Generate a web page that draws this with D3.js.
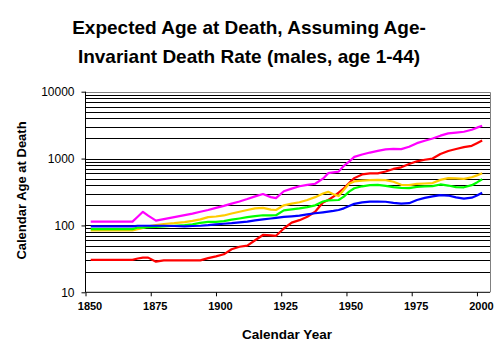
<!DOCTYPE html>
<html><head><meta charset="utf-8">
<script src="https://cdn.jsdelivr.net/npm/d3@7"></script>
<style>
body{margin:0;background:#fff;}
svg{display:block;font-family:"Liberation Sans",Arial,sans-serif;}
</style></head>
<body><svg id="chart" width="498" height="355"></svg>
<script>
const years = [1852,1856,1860,1864,1868,1870,1872,1874,1877,1880,1884,1888,1891,1894,1897,1900,1903,1906,1909,1912,1915,1918,1921,1923,1926,1929,1932,1935,1938,1941,1943,1945,1947,1949,1951,1953,1956,1959,1962,1965,1968,1971,1974,1977,1980,1983,1986,1989,1992,1995,1998,2000,2002];
const magenta = [114,114,114,114,114,135,160,140,118,124,133,143,150,160,170,183,196,212,228,248,272,295,265,256,325,355,385,405,420,500,604,620,638,780,900,1060,1150,1230,1300,1370,1400,1385,1500,1700,1850,2000,2200,2380,2450,2520,2700,2900,3100];
const red = [30.5,30.5,30.5,30.5,30.5,32,33,33,28.7,30,30,30,30,30,32.5,34.5,37,44,48,50,60,72,71,70,90,110,120,135,160,220,240,270,310,360,430,510,580,600,600,640,700,740,830,910,960,1000,1170,1300,1390,1480,1550,1700,1860];
const orange = [84,84,84,84,84,88,92,97,101,105,108,112,117,123,133,136,141,151,160,170,180,183,172,170,200,212,222,240,265,300,318,293,275,340,420,455,468,475,480,475,450,405,400,418,424,430,480,510,505,497,525,560,604];
const green = [88,88,88,88,88,93,93,94,95,97,99,101,104,109,113,113,116,122,127,133,138,142,141,142,168,174,180,188,200,228,237,238,240,270,320,360,385,400,404,390,373,365,362,377,383,388,410,395,375,372,400,440,491];
const blue = [97,97,97,97,97,99,99,99,99,99,98,97,98,99,101,104,106,108,111,114,119,123,127,130,134,137,140,146,152,157,161,165,170,180,195,210,221,227,227,226,218,212,215,240,258,272,284,280,263,252,260,280,309];
const xTicks = [1850,1875,1900,1925,1950,1975,2000];
const yTicks = [10,100,1000,10000];
const titleLines = ["Expected Age at Death, Assuming Age-","Invariant Death Rate (males, age 1-44)"];

const series = [
  {name:"red", values:red, color:"#FF0000"},
  {name:"magenta", values:magenta, color:"#FF00FF"},
  {name:"orange", values:orange, color:"#FFCC00"},
  {name:"green", values:green, color:"#00FF00"},
  {name:"blue", values:blue, color:"#0000FF"}
];

const svg = d3.select("#chart");
const L=85.5, R=490, T=91.7, B=292.3;
const x = d3.scaleLinear().domain([1850,2005]).range([L,R]);
const y = d3.scaleLog().domain([10,10000]).range([B,T]);

// gridlines
const grid=[];
for(let d=10; d<10000; d*=10){ for(let k=1;k<10;k++){ const v=d*k; if(v>10) grid.push(v);} }
svg.append("g").selectAll("line").data(grid).join("line")
  .attr("x1",L).attr("x2",R).attr("y1",d=>Math.round(y(d))+0.5).attr("y2",d=>Math.round(y(d))+0.5)
  .attr("stroke","#000").attr("stroke-width",1);
// plot border top/right (gray)
svg.append("path").attr("d",`M${L},${Math.round(T)+0.5}H${R+0.5}V${B}`).attr("fill","none").attr("stroke","#808080").attr("stroke-width",1);

// lines
const line = d3.line().x((d,i)=>x(years[i])).y(d=>y(d));
svg.append("g").selectAll("path").data(series).join("path")
  .attr("d",s=>line(s.values)).attr("fill","none").attr("stroke",s=>s.color).attr("stroke-width",2.2).attr("stroke-linejoin","round");

// axes
const yAxis = d3.axisLeft(y).tickValues(yTicks).tickFormat(d3.format("d")).tickSize(4).tickPadding(7);
const gy = svg.append("g").attr("transform",`translate(${L},0)`).call(yAxis);
gy.select(".domain").attr("d",`M0,${T}V${B}`).attr("stroke","#000");
gy.selectAll("text").attr("font-size","12px").attr("font-family","'Liberation Sans',Arial,sans-serif").attr("fill","#000");
const xAxis = d3.axisBottom(x).tickValues(xTicks).tickFormat(d3.format("d")).tickSize(4).tickPadding(6);
const gx = svg.append("g").attr("transform",`translate(0,${B})`).call(xAxis);
gx.select(".domain").attr("d",`M${L},0H${R}`).attr("stroke","#000");
gx.selectAll("text").attr("font-size","11px").attr("font-weight","bold").attr("dx","4").attr("font-family","'Liberation Sans',Arial,sans-serif").attr("fill","#000");

// titles
svg.append("g").selectAll("text").data(titleLines).join("text")
  .attr("x",249).attr("y",(d,i)=>34+i*29).attr("text-anchor","middle")
  .attr("font-size","19px").attr("font-weight","bold").text(d=>d);
svg.append("text").attr("x",287).attr("y",339).attr("text-anchor","middle")
  .attr("font-size","13.5px").attr("font-weight","bold").text("Calendar Year");
svg.append("text").attr("transform","translate(26,190.5) rotate(-90)").attr("text-anchor","middle")
  .attr("font-size","13px").attr("font-weight","bold").text("Calendar Age at Death");
</script></body></html>
